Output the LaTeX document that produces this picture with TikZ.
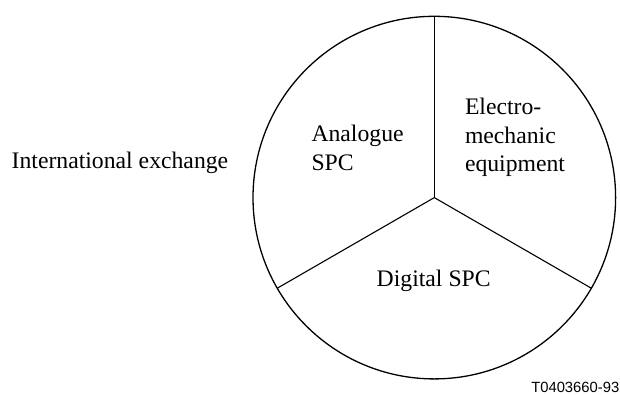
\documentclass[tikz,border=0pt]{standalone}
\usepackage{fontspec}
\setmainfont{Liberation Serif}
\newfontfamily\labelsans{Liberation Sans}
\usetikzlibrary{calc}
\begin{document}
\begin{tikzpicture}[x=1pt,y=-1pt,
  lbl/.style={inner sep=0pt,outer sep=0pt,align=left,font=\fontsize{23.7}{28.6}\selectfont},
  rim/.style={line width=1.3pt},
  spoke/.style={line width=1.1pt}]
\useasboundingbox (0,0) rectangle (620,394);
\coordinate (c) at (434.3,197.6);
\draw[rim] (c) circle[radius=181.3];
\coordinate (top) at (434.3,16.3);
\coordinate (lft) at ($(c)+(-157,90.6)$);
\coordinate (rgt) at ($(c)+(157,90.6)$);
\draw[spoke] (c) -- (top);
\draw[spoke] (c) -- (lft);
\draw[spoke] (c) -- (rgt);
\node[lbl,anchor=base west] (ana) at (311.5,170.2) {Analogue\\SPC};
\node[lbl,anchor=base west] (ele) at (465,171.6) {Electro-\\mechanic\\equipment};
\node[lbl,anchor=base] (dig) at (433.7,286.7) {Digital SPC};
\node[lbl,anchor=base west] (int) at (11.7,168.3) {International exchange};
\node[inner sep=0pt,anchor=base east,font=\labelsans\fontsize{14.8}{16}\selectfont] (id) at (619.5,392.3) {T0403660-93};
\end{tikzpicture}
\end{document}
